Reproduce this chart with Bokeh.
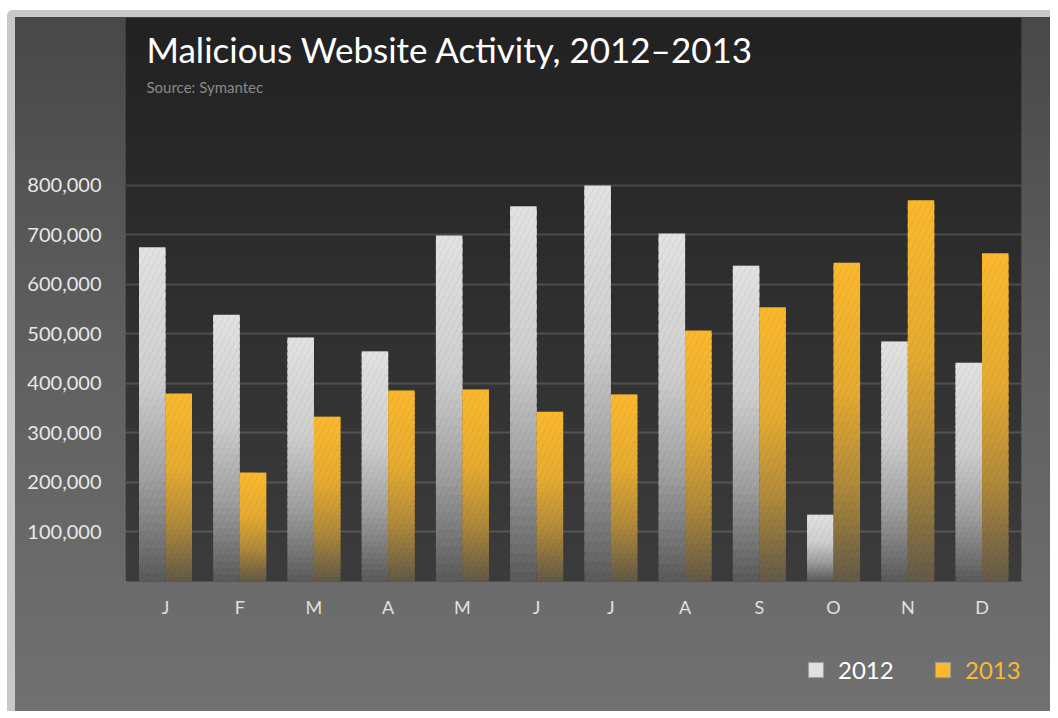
import numpy as np
from bokeh.plotting import figure
from bokeh.models import (FixedTicker, Label, BoxAnnotation, Legend, LegendItem,
                          NumeralTickFormatter, Range1d)
from bokeh.embed import file_html
from bokeh.resources import INLINE

# ---------------- data ----------------
months = ["J", "F", "M", "A", "M", "J", "J", "A", "S", "O", "N", "D"]
series = ["2012", "2013"]
v2012 = [675000, 539000, 493000, 465000, 699000, 758000, 800000, 703000, 638000, 135000, 485000, 442000]
v2013 = [380000, 220000, 333000, 386000, 388000, 343000, 378000, 507000, 554000, 644000, 770000, 663000]
y_ticks = [100000, 200000, 300000, 400000, 500000, 600000, 700000, 800000]
title_text = "Malicious Website Activity, 2012\u20132013"
subtitle_text = "Source: Symantec"

# ---------------- styles ----------------
FONT = "Lato"
TOP_COLORS = {"2012": "#e2e2e2", "2013": "#fbb92e"}
BOTTOM_COLORS = {"2012": "#5a5a5a", "2013": "#625948"}
LEGEND_FILL = {"2012": "#e0e0dc", "2013": "#fbb92e"}
LEGEND_TEXT = {"2012": "#ffffff", "2013": "#fbb92e"}

Y_TOP = 1139400
Y_BOT = -276800

W, H = 1043, 701
p = figure(width=W, height=H, output_backend="svg", toolbar_location=None,
           x_range=Range1d(-0.539, 11.532), y_range=Range1d(Y_BOT, Y_TOP),
           min_border_left=110, min_border_right=37, min_border_top=0, min_border_bottom=0)
p.styles = {"margin-left": "7px", "margin-top": "10px",
            "border-left": "8px solid #c8c8c8", "border-top": "7px solid #c8c8c8",
            "border-top-left-radius": "6px",
            "background": "linear-gradient(to bottom, #484848 0%, #5e5e5e 45%, #717171 100%)"}
p.border_fill_color = None
p.background_fill_color = None
p.outline_line_color = None

# dark panel gradient (above the zero line)
NB = 40
c_bot = np.array([0x3c, 0x3c, 0x3c])
c_top = np.array([0x22, 0x22, 0x22])
for k in range(NB):
    t = (k + 0.5) / NB
    c = (c_bot + (c_top - c_bot) * t).astype(int)
    b = Y_TOP * k / NB
    tp = Y_TOP * (k + 1.2) / NB
    p.add_layout(BoxAnnotation(bottom=b, top=min(tp, Y_TOP), fill_color="#%02x%02x%02x" % tuple(c),
                               fill_alpha=1, line_color=None, level="image"))

# grid / axes
p.xgrid.visible = False
p.ygrid.ticker = FixedTicker(ticks=y_ticks)
p.ygrid.grid_line_color = "#ffffff"
p.ygrid.grid_line_alpha = 0.15
p.ygrid.grid_line_width = 2

p.yaxis.ticker = FixedTicker(ticks=y_ticks)
p.yaxis.formatter = NumeralTickFormatter(format="0,0")
p.yaxis.axis_line_color = None
p.yaxis.major_tick_line_color = None
p.yaxis.minor_tick_line_color = None
p.yaxis.major_label_text_font = FONT
p.yaxis.major_label_text_font_size = "20px"
p.yaxis.major_label_text_color = "#e8e8e8"
p.yaxis.major_label_standoff = 18

p.xaxis.fixed_location = 0
p.xaxis.ticker = FixedTicker(ticks=list(range(len(months))))
p.xaxis.major_label_overrides = {i: m for i, m in enumerate(months)}
p.xaxis.axis_line_color = None
p.xaxis.major_tick_line_color = None
p.xaxis.minor_tick_line_color = None
p.xaxis.major_label_text_font = FONT
p.xaxis.major_label_text_font_size = "18px"
p.xaxis.major_label_text_color = "#e0e0e0"
p.xaxis.major_label_standoff = 9

# bars with vertical gradient
BW = 0.357
OFF = 0.1785
N = 40
t_stops = [0.0, 0.3, 0.6, 1.0]
s_stops = [0.0, 0.51, 0.86, 1.0]


def hex2rgb(h):
    h = h.lstrip("#")
    return np.array([int(h[i:i + 2], 16) for i in (0, 2, 4)], dtype=float)


for name, vals, off in (("2012", v2012, -OFF), ("2013", v2013, OFF)):
    ct = hex2rgb(TOP_COLORS[name])
    cb = hex2rgb(BOTTOM_COLORS[name])
    xs, bots, tops, cols = [], [], [], []
    for i, v in enumerate(vals):
        step = v / N
        for k in range(N):
            t = (k + 0.5) / N
            s = np.interp(t, t_stops, s_stops)
            c = (cb + (ct - cb) * s).astype(int)
            xs.append(i + off)
            bots.append(k * step)
            tops.append(min(v, (k + 1.6) * step))
            cols.append("#%02x%02x%02x" % tuple(c))
    p.vbar(x=xs, bottom=bots, top=tops, width=BW, fill_color=cols, line_color=None)
    p.vbar(x=[i + off for i in range(len(vals))], top=vals, width=BW, fill_alpha=0,
           line_color=None, hatch_pattern="/", hatch_color="#000000", hatch_alpha=0.06,
           hatch_scale=12, hatch_weight=1)

# title and subtitle
p.add_layout(Label(x=-0.256, y=1076300, text=title_text, text_font=FONT, text_font_size="35px",
                   text_color="#ffffff", text_baseline="alphabetic"))
p.add_layout(Label(x=-0.256, y=998100, text=subtitle_text, text_font=FONT, text_font_size="15px",
                   text_color="#8a8a8a", text_baseline="alphabetic"))

# legends (swatch renderers sit outside the visible x range; only their legend glyph shows)
for name, loc in (("2012", (681, 34)), ("2013", (808, 34))):
    swatch = p.vbar(x=[-5], bottom=[0], top=[1], width=0.3, fill_color=LEGEND_FILL[name],
                    line_color="#9a9a9a", line_width=1)
    lg = Legend(items=[LegendItem(label=name, renderers=[swatch])], location=loc,
                border_line_color=None, background_fill_alpha=0, padding=0, margin=0,
                glyph_width=19, glyph_height=19, label_standoff=13,
                label_text_font=FONT, label_text_font_size="24px",
                label_text_color=LEGEND_TEXT[name])
    p.add_layout(lg, "center")

open("out.html", "w").write(file_html(p, INLINE))
